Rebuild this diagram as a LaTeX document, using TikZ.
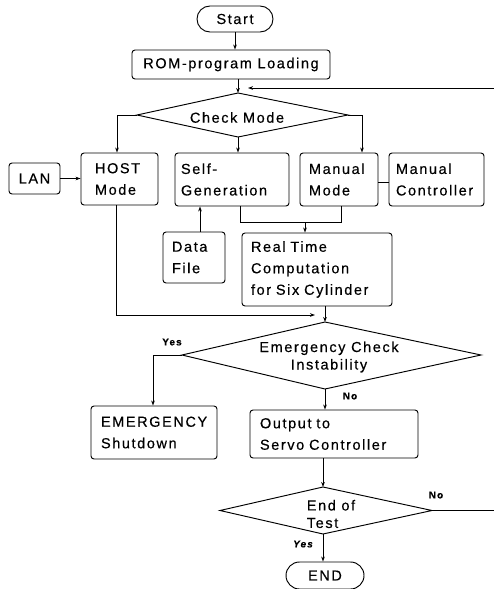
\documentclass[tikz,border=0pt]{standalone}
\usepackage{fontspec}
\setmainfont{Liberation Sans}[LetterSpace=11, FakeBold=0.4]
\usetikzlibrary{arrows.meta, shapes.misc}

\begin{document}
\begin{tikzpicture}[x=1pt, y=-1pt,
  every node/.style={font=\fontsize{14.5}{21.5}\selectfont},
  line/.style={line width=0.95pt},
  arr/.style={line width=0.95pt, -{Stealth[length=5pt,width=3.6pt]}},
  box/.style={draw, line width=0.95pt, rounded corners=3pt, inner ysep=0pt, align=left},
  term/.style={draw, line width=0.95pt, rounded rectangle, inner sep=0pt, align=center},
  decision/.style={draw, line width=0.95pt, line join=miter},
  dtext/.style={inner sep=0pt, font=\fontsize{14.5}{17.5}\selectfont},
  tag/.style={inner sep=0pt, font=\fontsize{10}{12}\selectfont\bfseries}
]
\useasboundingbox (0,0) rectangle (494,589);

% --- terminals and process boxes
\node[term, minimum width=76pt, minimum height=26pt] (start) at (235,19) {Start};
\node[box, align=center, minimum width=198pt, minimum height=29pt] (rom) at (231,64.5) {ROM-program Loading};

\node[box, align=center, minimum width=51pt, minimum height=31pt, inner xsep=0pt] (lan) at (34.5,178.5) {LAN};
\node[box, minimum width=77pt, minimum height=52pt, inner xsep=14pt, text width=49pt] (host) at (119.5,179) {HOST\\Mode};
\node[box, minimum width=114pt, minimum height=53pt, inner xsep=6pt, text width=102pt] (selfgen) at (232,179.5) {Self-\\Generation};
\node[box, minimum width=78pt, minimum height=53pt, inner xsep=9pt, text width=60pt] (manmode) at (339,179.5) {Manual\\Mode};
\node[box, minimum width=95pt, minimum height=53pt, inner xsep=7pt, text width=81pt] (manctrl) at (436.5,179.5) {Manual\\\mbox{Controller}};

\node[box, minimum width=62pt, minimum height=51pt, inner xsep=9pt, text width=44pt] (datafile) at (194,257.5) {Data\\File};
\node[box, minimum width=150pt, minimum height=73pt, inner xsep=9pt, text width=132pt] (rt) at (317,269.5)
  {\mbox{Real Time}\\\mbox{Computation}\\\mbox{for Six Cylinder}};

\node[box, minimum width=126pt, minimum height=53pt, inner xsep=10pt, text width=106pt] (emerg) at (154,432.5) {\mbox{EMERGENCY}\\Shutdown};
\node[box, minimum width=168pt, minimum height=48pt, inner xsep=10pt, text width=148pt] (out) at (334,434) {Output to\\\mbox{Servo Controller}};

\node[term, minimum width=78pt, minimum height=27pt] (finish) at (325,575.5) {END};

% --- decisions
\coordinate (cmL) at (137,115);
\coordinate (cmT) at (238,93);
\coordinate (cmR) at (348,115);
\coordinate (cmB) at (238,137);
\draw[decision] (cmL) -- (cmT) -- (cmR) -- (cmB) -- cycle;
\node[dtext] (cmtext) at (237,117.5) {Check Mode};

\coordinate (emL) at (182,355);
\coordinate (emT) at (325,322);
\coordinate (emR) at (481,355);
\coordinate (emB) at (325,389);
\draw[decision] (emL) -- (emT) -- (emR) -- (emB) -- cycle;
\node[dtext, align=center] (emtext) at (329,357) {Emergency Check\\Instability};

\coordinate (etL) at (220,510.5);
\coordinate (etT) at (323,487);
\coordinate (etR) at (432,510.5);
\coordinate (etB) at (323,534);
\draw[decision] (etL) -- (etT) -- (etR) -- (etB) -- cycle;
\node[dtext, align=left] (ettext) at (331,514) {End of\\Test};

% --- loop return from the end-of-test branch
\coordinate (fbR) at (494,88);
\coordinate (fbE) at (248,88);
\coordinate (etOut) at (494,510.5);

% --- connectors
\draw[arr] (start.south) -- (start.south |- rom.north);
\draw[arr] (rom.south -| cmT) -- (cmT);
\draw[arr] (fbR) -- (fbE);

\draw[arr] (cmL) -- (117,115) -- (117,115 |- host.north);
\draw[arr] (cmB) -- (cmB |- selfgen.north);
\draw[arr] (cmR) -- (362,115) -- (362,115 |- manmode.north);

\draw[arr] (lan.east) -- (lan.east -| host.west);
\draw[line] (manctrl.west |- 0,182) -- (manmode.east |- 0,182);

\draw[line] (240,0 |- selfgen.south) -- (240,222) -- (341,222) -- (341,0 |- manmode.south);
\draw[arr] (305,222) -- (305,0 |- rt.north);
\draw[arr] (200,0 |- datafile.north) -- (200,0 |- selfgen.south);

\draw[arr] (116,0 |- host.south) -- (116,315) -- (315,315);
\draw[arr] (emT |- rt.south) -- (emT);

\draw[arr] (emL) -- (153,355) -- (153,0 |- emerg.north);
\draw[arr] (emB) -- (emB |- out.north);
\draw[arr] (etT |- out.south) -- (etT);
\draw[line] (etR) -- (etOut);
\draw[arr] (etB) -- (etB |- finish.north);

% --- branch labels
\node[tag] (yes1) at (172,342) {Yes};
\node[tag] (no1) at (350,396) {No};
\node[tag] (no2) at (436,495) {No};
\node[tag, font=\fontsize{10}{12}\selectfont\bfseries\itshape] (yes2) at (303,544) {Yes};
\end{tikzpicture}
\end{document}
